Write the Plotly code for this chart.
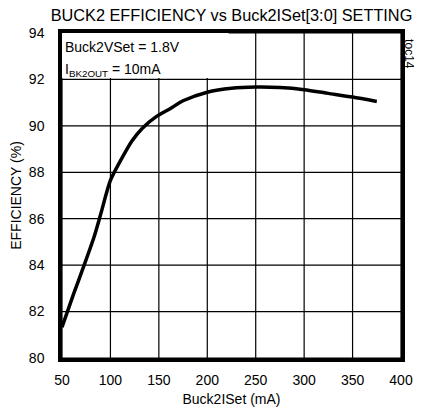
import plotly.graph_objects as go

# Data
iset_ma = [50, 62, 72, 83, 90, 100, 114, 122, 133, 148, 162, 175, 200, 225, 250, 275, 300, 325, 350, 375]
efficiency_pct = [81.33, 82.76, 83.9, 85.2, 86.2, 87.65, 88.77, 89.34, 89.9, 90.42, 90.75, 91.08, 91.45, 91.62, 91.67, 91.65, 91.56, 91.4, 91.24, 91.05]
x_ticks = [50, 100, 150, 200, 250, 300, 350, 400]
y_ticks = [80, 82, 84, 86, 88, 90, 92, 94]

# white label box in the top-left corner (covers the grid behind the notes)
box_x = [50, 222, 222, 50, 50]
box_y = [92.06, 92.06, 94, 94, 92.06]

FONT = "Liberation Sans, Arial, sans-serif"

fig = go.Figure()
fig.add_trace(go.Scatter(
    x=box_x, y=box_y, mode="lines", fill="toself", fillcolor="white",
    line=dict(width=0, color="white"), showlegend=False, hoverinfo="skip",
))
fig.add_trace(go.Scatter(
    x=iset_ma, y=efficiency_pct, mode="lines",
    line=dict(color="black", width=3.5, shape="spline", smoothing=0.7),
    showlegend=False, hoverinfo="skip",
))

grid = []
for xv in x_ticks:
    grid.append(dict(type="line", xref="x", yref="paper", x0=xv, x1=xv, y0=0, y1=1,
                     line=dict(color="black", width=1.2), layer="below"))
for yv in y_ticks:
    grid.append(dict(type="line", xref="paper", yref="y", x0=0, x1=1, y0=yv, y1=yv,
                     line=dict(color="black", width=1.2), layer="below"))

fig.update_layout(
    template="none",
    width=414, height=406,
    margin=dict(l=54, r=21, t=25, b=56, autoexpand=False),
    paper_bgcolor="white", plot_bgcolor="white",
    font=dict(family=FONT, size=14, color="black"),
    title=dict(text="BUCK2 EFFICIENCY vs Buck2ISet[3:0] SETTING",
               x=(54 + 339 / 2) / 414, xanchor="center", y=0.995, yanchor="top",
               pad=dict(t=0, b=0),
               font=dict(family=FONT, size=16.3, color="black")),
    xaxis=dict(range=[50, 400], tickmode="array", tickvals=x_ticks, automargin=False,
               showgrid=False, showline=True, linecolor="black", linewidth=3.5, mirror=True,
               zeroline=False, ticks="outside", ticklen=6, tickcolor="rgba(0,0,0,0)",
               title=dict(text="Buck2ISet (mA)", standoff=9, font=dict(size=14))),
    yaxis=dict(range=[80, 94], tickmode="array", tickvals=y_ticks, automargin=False,
               showgrid=False, showline=True, linecolor="black", linewidth=3.5, mirror=True,
               zeroline=False, ticks="outside", ticklen=11, tickcolor="rgba(0,0,0,0)",
               title=dict(text="EFFICIENCY (%)", standoff=7, font=dict(size=14))),
    shapes=grid,
    annotations=[
        dict(text="Buck2VSet = 1.8V", xref="paper", yref="paper", x=0.004, y=0.956,
             xanchor="left", yanchor="middle", showarrow=False, font=dict(size=14)),
        dict(text="I<sub>BK2OUT</sub> = 10mA", xref="paper", yref="paper", x=0.004, y=0.886,
             xanchor="left", yanchor="middle", showarrow=False, font=dict(size=14)),
        dict(text="toc14", xref="paper", yref="paper", x=1.0236, y=0.935,
             xanchor="center", yanchor="middle", showarrow=False, textangle=90,
             font=dict(size=12)),
    ],
)

fig.write_html("out.html")
